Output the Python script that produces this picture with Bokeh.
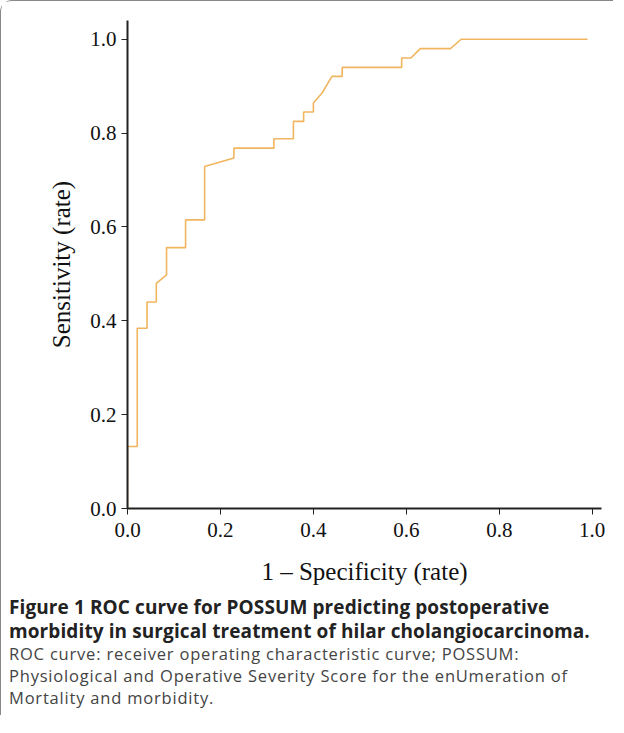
from bokeh.plotting import figure
from bokeh.models import Range1d, Div
from bokeh.layouts import column
from bokeh.embed import file_html
from bokeh.resources import INLINE

fpr = [0.0, 0.0, 0.021, 0.021, 0.042, 0.042, 0.062, 0.062, 0.084, 0.084, 0.125, 0.125, 0.166, 0.166,
       0.229, 0.229, 0.315, 0.315, 0.357, 0.357, 0.379, 0.379, 0.40, 0.40, 0.419, 0.44, 0.462, 0.462,
       0.59, 0.59, 0.61, 0.63, 0.695, 0.718, 0.99]
tpr = [0.0, 0.132, 0.132, 0.384, 0.384, 0.44, 0.44, 0.48, 0.498, 0.556, 0.556, 0.615, 0.615, 0.729,
       0.747, 0.768, 0.768, 0.788, 0.788, 0.825, 0.825, 0.845, 0.845, 0.864, 0.886, 0.921, 0.921, 0.94,
       0.94, 0.96, 0.96, 0.98, 0.98, 1.0, 1.0]
ticks = [0.0, 0.2, 0.4, 0.6, 0.8, 1.0]

p = figure(width=612, height=594, output_backend="svg", toolbar_location=None,
           x_range=Range1d(0, 1.02), y_range=Range1d(0, 1.04),
           min_border_left=126, min_border_right=12, min_border_top=19, min_border_bottom=87)
p.outline_line_color = None
p.grid.grid_line_color = None
p.line(fpr, tpr, line_color="#f0b55e", line_width=1.6)
for ax in (p.xaxis[0], p.yaxis[0]):
    ax.ticker = ticks
    ax.minor_tick_line_color = None
    ax.axis_line_width = 2
    ax.axis_line_color = "#222"
    ax.major_tick_line_color = "#222"
    ax.major_tick_out = 6
    ax.major_tick_in = 0
    ax.major_label_text_font = "Liberation Serif"
    ax.major_label_text_font_size = "21px"
    ax.major_label_text_color = "#111"
    ax.axis_label_text_font = "Liberation Serif"
    ax.axis_label_text_font_size = "25px"
    ax.axis_label_text_font_style = "normal"
    ax.axis_label_text_color = "#111"
p.xaxis.major_label_overrides = {t: f"{t:.1f}" for t in ticks}
p.yaxis.major_label_overrides = {t: f"{t:.1f}" for t in ticks}
p.xaxis.major_label_standoff = 8
p.xaxis.axis_label = "1 – Specificity (rate)"
p.yaxis.axis_label = "Sensitivity (rate)"
p.xaxis.axis_label_standoff = 18
p.yaxis.axis_label_standoff = 12

cap = Div(text=("<div style='font-family:\"Open Sans\";font-size:16.5px;letter-spacing:0.8px;line-height:22px;color:#444'>"
                "<span style='font-weight:bold;color:#222;font-size:19px;letter-spacing:0.1px;line-height:24px'>Figure 1 ROC curve for POSSUM predicting postoperative "
                "morbidity in surgical treatment of hilar cholangiocarcinoma.</span><br>"
                "ROC curve: receiver operating characteristic curve; POSSUM: Physiological and Operative Severity Score for the enUmeration of "
                "Mortality and morbidity.</div>"), width=604, height=120, margin=(0, 0, 0, 8))

lay = column(p, cap, styles={"border-left": "1px solid #888", "border-top": "1px solid #888",
                             "border-top-left-radius": "12px"})
open("out.html", "w").write(file_html(lay, INLINE))
